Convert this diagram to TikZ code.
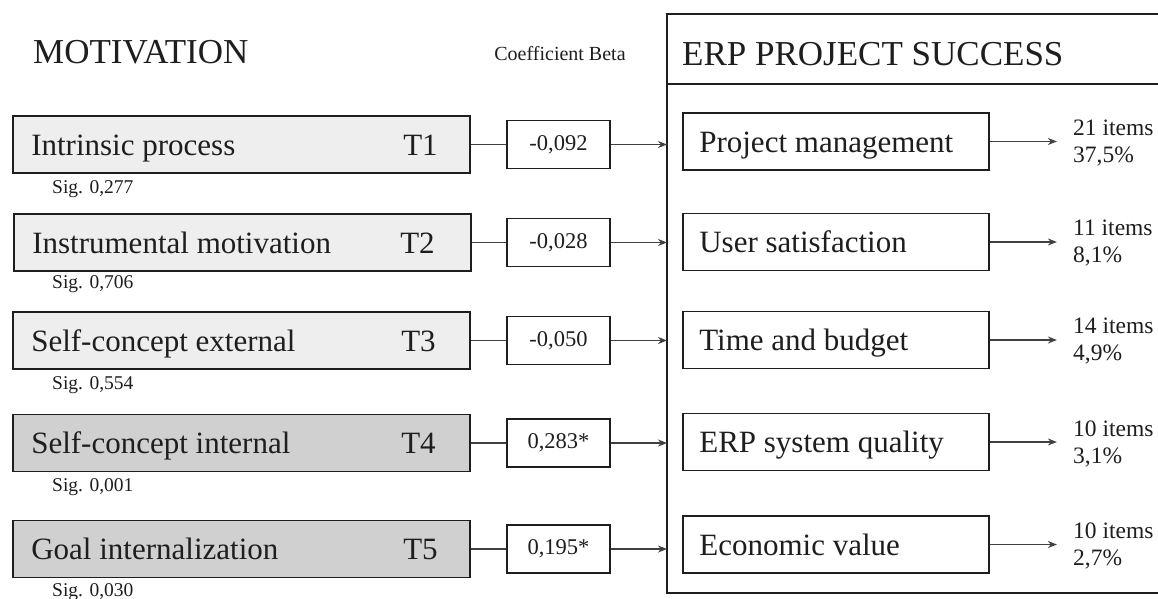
\documentclass[tikz,border=0pt]{standalone}
\usepackage{fontspec}
\setmainfont{Liberation Serif}
\usetikzlibrary{arrows.meta,calc}

\definecolor{ink}{HTML}{1E1E1E}
\definecolor{lightfill}{HTML}{EEEEEE}
\definecolor{darkfill}{HTML}{D0D0D0}
\definecolor{wire}{HTML}{404040}

\tikzset{
  heading/.style={anchor=base west, inner sep=0pt, text=ink, font=\fontsize{35}{40}\selectfont},
  factorbox/.style={draw=ink, line width=1.8pt, minimum width=457pt, minimum height=57pt, inner sep=0pt},
  lightbox/.style={factorbox, fill=lightfill},
  darkbox/.style={factorbox, fill=darkfill},
  bodytext/.style={anchor=base west, inner sep=0pt, text=ink, font=\fontsize{31}{36}\selectfont},
  tagtext/.style={anchor=base east, inner sep=0pt, text=ink, font=\fontsize{31}{36}\selectfont},
  sigtext/.style={anchor=base west, inner sep=0pt, text=ink, font=\fontsize{19.5}{22}\selectfont},
  coefbox/.style={draw=ink, line width=1.6pt, fill=white, minimum width=103pt, minimum height=48pt, inner sep=0pt, text=ink, font=\fontsize{22.5}{26}\selectfont},
  outcomebox/.style={draw=ink, line width=1.8pt, fill=white, minimum width=306pt, minimum height=57pt, inner sep=0pt},
  itemtext/.style={anchor=west, align=left, inner sep=0pt, text=ink, font=\fontsize{23.5}{27}\selectfont},
  link/.style={draw=wire, line width=1.5pt},
  arrowlink/.style={link, -{Stealth[length=9pt,width=7pt]}},
}

\begin{document}
\begin{tikzpicture}[x=1pt,y=-1pt]
\useasboundingbox (0,0) rectangle (1158,598);
\clip (0,0) rectangle (1158,598);
\fill[white] (0,0) rectangle (1158,598);

% headings
\node[heading] (motiv) at (33,63) {MOTIVATION};
\node[anchor=base, inner sep=0pt, text=ink, font=\fontsize{20}{24}\selectfont] (beta) at (560,60) {Coefficient Beta};

% outcome frame
\draw[draw=ink, line width=1.8pt] (667,14) rectangle (1180,593);
\draw[draw=ink, line width=1.8pt] (667,84) -- (1180,84);
\node[heading] (erp) at (682,65) {ERP PROJECT SUCCESS};

% motivation factors
\node[lightbox] (m1) at (241.5,144.5) {};
\node[lightbox] (m2) at (242.5,242.5) {};
\node[lightbox] (m3) at (241.5,340.5) {};
\node[darkbox]  (m4) at (241.5,443) {};
\node[darkbox]  (m5) at (241.5,549) {};

\node[bodytext] (m1t) at ($(m1.west)+(19,10.5)$) {Intrinsic process};
\node[bodytext] (m2t) at ($(m2.west)+(19,10.5)$) {Instrumental motivation};
\node[bodytext] (m3t) at ($(m3.west)+(19,10.5)$) {Self-concept external};
\node[bodytext] (m4t) at ($(m4.west)+(19,10.5)$) {Self-concept internal};
\node[bodytext] (m5t) at ($(m5.west)+(19,10.5)$) {Goal internalization};

\node[tagtext] (m1g) at ($(m1.east)+(-33,10.5)$) {T1};
\node[tagtext] (m2g) at ($(m2.east)+(-37,10.5)$) {T2};
\node[tagtext] (m3g) at ($(m3.east)+(-35,10.5)$) {T3};
\node[tagtext] (m4g) at ($(m4.east)+(-35,10.5)$) {T4};
\node[tagtext] (m5g) at ($(m5.east)+(-33,10.5)$) {T5};

\node[sigtext] (s1) at (52,193) {Sig. 0,277};
\node[sigtext] (s2) at (52,288) {Sig. 0,706};
\node[sigtext] (s3) at (52,389) {Sig. 0,554};
\node[sigtext] (s4) at (52,491) {Sig. 0,001};
\node[sigtext] (s5) at (52,596) {Sig. 0,030};

% beta coefficients
\node[coefbox] (c1) at (558.5,144.5) {-0,092};
\node[coefbox] (c2) at (558.5,242.5) {-0,028};
\node[coefbox] (c3) at (558.5,340.5) {-0,050};
\node[coefbox] (c4) at (558.5,443) {0,283*};
\node[coefbox] (c5) at (558.5,549) {0,195*};

% entry points on the frame
\coordinate (e1) at (667,144.5);
\coordinate (e2) at (667,242.5);
\coordinate (e3) at (667,340.5);
\coordinate (e4) at (667,443);
\coordinate (e5) at (667,549);

\foreach \i in {1,...,5} {
  \draw[link] (m\i.east) -- (c\i.west);
  \draw[arrowlink] (c\i.east) -- (e\i);
}

% success dimensions
\node[outcomebox] (d1) at (836,141.5) {};
\node[outcomebox] (d2) at (836,242) {};
\node[outcomebox] (d3) at (836,340) {};
\node[outcomebox] (d4) at (836,442) {};
\node[outcomebox] (d5) at (836,544.5) {};

\node[bodytext] (d1t) at ($(d1.west)+(17,10.5)$) {Project management};
\node[bodytext] (d2t) at ($(d2.west)+(17,10.5)$) {User satisfaction};
\node[bodytext] (d3t) at ($(d3.west)+(17,10.5)$) {Time and budget};
\node[bodytext] (d4t) at ($(d4.west)+(17,10.5)$) {ERP system quality};
\node[bodytext] (d5t) at ($(d5.west)+(17,10.5)$) {Economic value};

\node[itemtext] (i1) at (1073,143) {21 items\\37,5\%};
\node[itemtext] (i2) at (1073,243.5) {11 items\\8,1\%};
\node[itemtext] (i3) at (1073,341.5) {14 items\\4,9\%};
\node[itemtext] (i4) at (1073,443.5) {10 items\\3,1\%};
\node[itemtext] (i5) at (1073,546) {10 items\\2,7\%};

\foreach \i in {1,...,5} {
  \coordinate (t\i) at ($(d\i.east)+(67,0)$);
  \draw[arrowlink] (d\i.east) -- (t\i);
}
\end{tikzpicture}
\end{document}
